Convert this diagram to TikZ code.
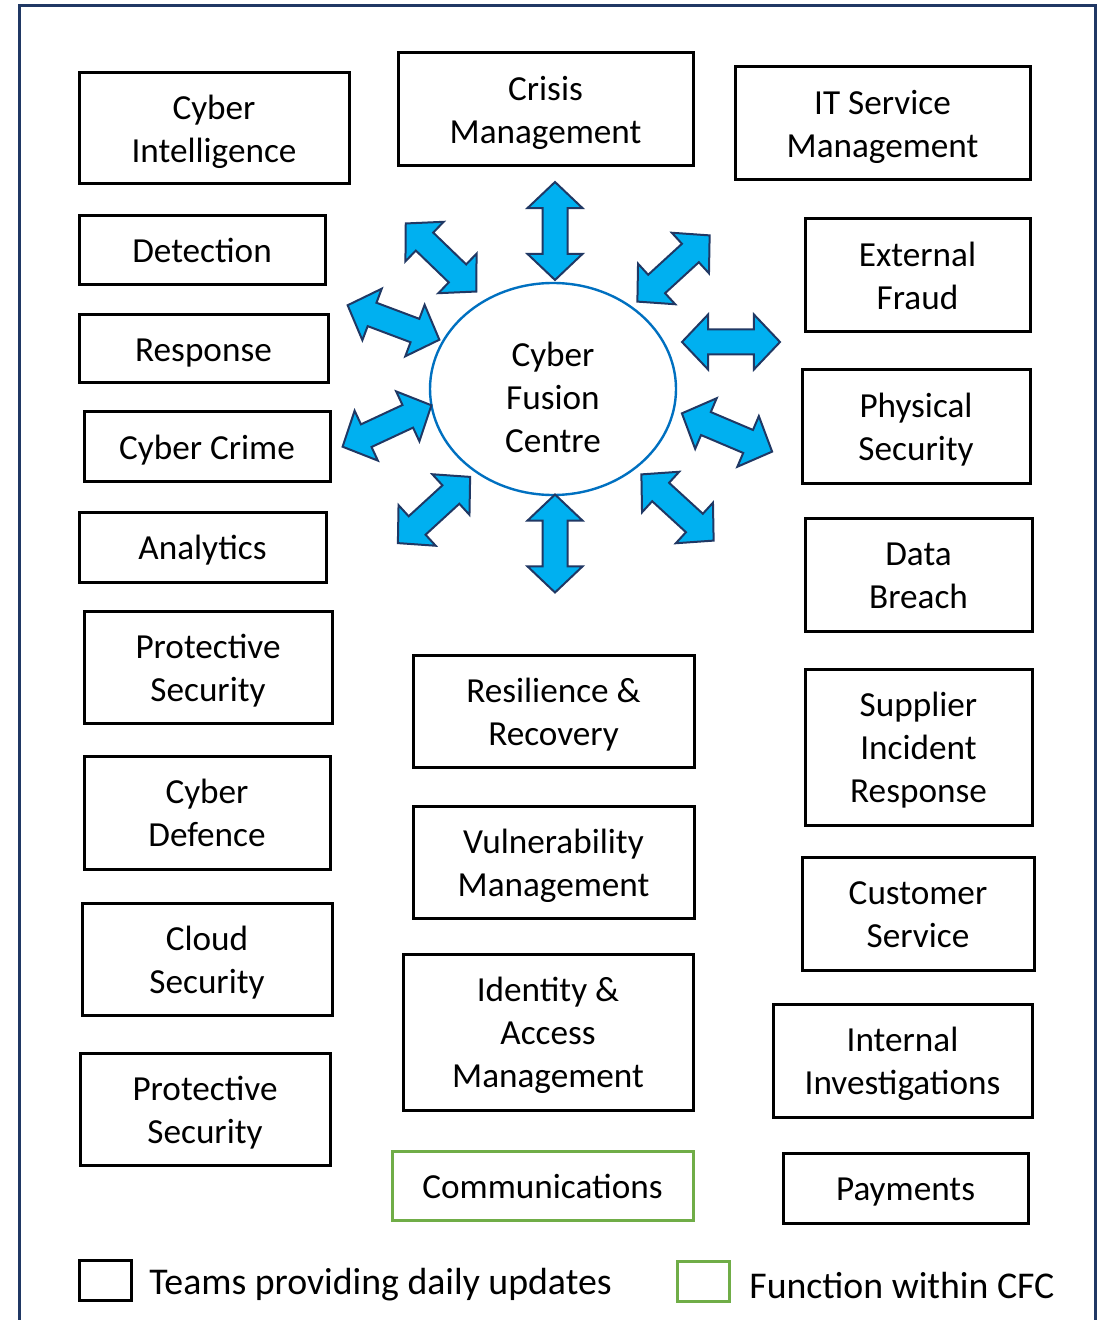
\documentclass[tikz,border=0pt]{standalone}
\usepackage{fontspec}
\setmainfont{Carlito}
\usepackage{tikz}
\usetikzlibrary{shapes.geometric}
\usetikzlibrary{shapes.arrows}
\usepackage{xcolor}
\definecolor{framenavy}{HTML}{203864}
\definecolor{cfcblue}{HTML}{0070C0}
\definecolor{linkcyan}{HTML}{00B0F0}
\definecolor{cfcgreen}{HTML}{70AD47}
\newcommand{\cfcstrut}{\rule[-4.4pt]{0pt}{21.45pt}}
\tikzset{
    teambox/.style={draw, line width=1.5pt, align=flush center, inner sep=0pt,
        text width=\pgfkeysvalueof{/pgf/minimum width},
        font=\fontsize{17.6}{21.5}\selectfont,
        execute at begin node=\cfcstrut, execute at end node=\cfcstrut},
    cfcbox/.style={teambox, draw=cfcgreen},
    linkarrow/.style={double arrow, draw=framenavy, fill=linkcyan, line width=1pt,
        inner xsep=0pt, inner ysep=5.75pt, minimum height=49pt,
        double arrow head extend=7.5pt, double arrow tip angle=93},
    legendtext/.style={anchor=west, inner sep=0pt, font=\fontsize{18.9}{22}\selectfont}
}

\begin{document}
\begin{tikzpicture}[x=0.5pt,y=-0.5pt]
                \useasboundingbox (0,0) rectangle (1102,1320);
                \draw[framenavy, line width=1.5pt] (19.5,1325) -- (19.5,5.5) -- (1095.5,5.5) -- (1095.5,1325);
                % left column
                \node[teambox, minimum width=135pt, minimum height=55.5pt] (cyberintel) at (214,128) {Cyber\\Intelligence};
                \node[teambox, minimum width=123pt, minimum height=34.5pt] (detection) at (202,250) {Detection};
                \node[teambox, minimum width=124.5pt, minimum height=34pt] (response) at (203.5,349) {Response};
                \node[teambox, minimum width=123pt, minimum height=34.5pt] (cybercrime) at (207,446.5) {Cyber Crime};
                \node[teambox, minimum width=123.5pt, minimum height=35pt] (analytics) at (202.5,547) {Analytics};
                \node[teambox, minimum width=124pt, minimum height=56pt] (protsecA) at (208,667) {Protective\\Security};
                \node[teambox, minimum width=123pt, minimum height=56.5pt] (cyberdef) at (207,812.5) {Cyber\\Defence};
                \node[teambox, minimum width=125pt, minimum height=56pt] (cloudsec) at (207,959) {Cloud\\Security};
                \node[teambox, minimum width=125pt, minimum height=56pt] (protsecB) at (205,1109) {Protective\\Security};
                % middle column
                \node[teambox, minimum width=147.5pt, minimum height=56.5pt] (crisis) at (545.5,109.5) {Crisis\\Management};
                \node[ellipse, draw=cfcblue, line width=1.2pt, inner sep=0pt,
                    minimum width=123pt, minimum height=106pt] (cfc) at (553,389) {};
                \node[align=center, inner sep=0pt, font=\fontsize{17.6}{21.5}\selectfont] (cfctext) at (553,397.5) {Cyber\\Fusion\\Centre};
                \node[teambox, minimum width=140.5pt, minimum height=56pt] (resilience) at (553.5,711) {Resilience \&\\Recovery};
                \node[teambox, minimum width=140.5pt, minimum height=56pt] (vulnmgmt) at (553.5,862) {Vulnerability\\Management};
                \node[teambox, minimum width=145pt, minimum height=78pt] (iam) at (548,1032) {Identity \&\\Access\\Management};
                \node[cfcbox, minimum width=150.5pt, minimum height=34.5pt] (comms) at (542.5,1185.5) {Communications};
                % right column
                \node[teambox, minimum width=147.5pt, minimum height=56.5pt] (itsm) at (882.5,123.5) {IT Service\\Management};
                \node[teambox, minimum width=112.5pt, minimum height=56.5pt] (extfraud) at (917.5,275.5) {External\\Fraud};
                \node[teambox, minimum width=114pt, minimum height=56.5pt] (physsec) at (916,426.5) {Physical\\Security};
                \node[teambox, minimum width=113.5pt, minimum height=56.5pt] (databreach) at (918.5,574.5) {Data\\Breach};
                \node[teambox, minimum width=113.5pt, minimum height=78pt] (supplier) at (918.5,747) {Supplier\\Incident\\Response};
                \node[teambox, minimum width=116pt, minimum height=56.5pt] (custserv) at (918,913.5) {Customer\\Service};
                \node[teambox, minimum width=129.5pt, minimum height=56.5pt] (internal) at (902.5,1060.5) {Internal\\Investigations};
                \node[teambox, minimum width=122.5pt, minimum height=35pt] (payments) at (905.5,1188) {Payments};
                % arrows round the centre
                \foreach \px/\py/\rot [count=\i] in {555/231/90, 673.5/268.5/42.5, 731/342/0, 727/432.5/-23,
                        677.5/507.5/-42.5, 555/543.5/90, 434/510/42.5, 387/426/25,
                        393.5/322.5/-20.6, 441/257.5/-44}
                    \node[linkarrow, rotate=\rot] (link\i) at (\px,\py) {};
                % legend
                \node[draw, line width=1.5pt, inner sep=0pt, minimum width=26pt, minimum height=20pt] (keyteam) at (105,1280) {};
                \node[legendtext] (keyteamtext) at (149,1285) {Teams providing daily updates};
                \node[draw=cfcgreen, line width=1.5pt, inner sep=0pt, minimum width=26pt, minimum height=20pt] (keycfc) at (703,1281) {};
                \node[legendtext] (keycfctext) at (749,1285) {Function within CFC};
            \end{tikzpicture}
\end{document}
